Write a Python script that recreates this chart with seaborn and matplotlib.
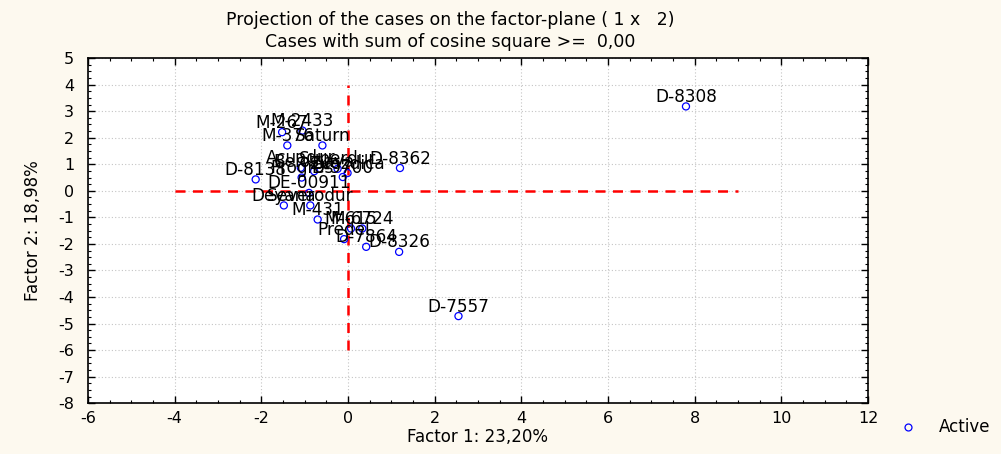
import matplotlib
matplotlib.use("Agg")
import matplotlib.pyplot as plt
from matplotlib.ticker import MultipleLocator
import seaborn as sns
import pandas as pd

# ---- data ----
case_names = ["D-8308", "D-7557", "D-8362", "D-8326", "D-7864", "Predel",
              "M-615", "M-6724", "M-431", "Deyana", "Severodur", "DE-00911",
              "D-8138", "Progres", "Beloslava", "Acuadur", "Superdur", "D-9700",
              "Zvezdica", "M-267", "M-2433", "M-376", "Saturn"]
factor1 = [7.80, 2.55, 1.20, 1.18, 0.42, -0.09,
           0.07, 0.33, -0.70, -1.48, -0.87, -0.90,
           -2.13, -1.07, -0.78, -1.09, -0.24, -0.12,
           -0.01, -1.52, -1.05, -1.40, -0.59]
factor2 = [3.18, -4.72, 0.86, -2.30, -2.11, -1.82,
           -1.42, -1.42, -1.08, -0.55, -0.55, -0.08,
           0.43, 0.50, 0.74, 0.87, 0.83, 0.52,
           0.67, 2.21, 2.27, 1.71, 1.71]
series_label = "Active"
title_lines = ["Projection of the cases on the factor-plane ( 1 x   2)",
               "Cases with sum of cosine square >=  0,00"]
x_label = "Factor 1: 23,20%"
y_label = "Factor 2: 18,98%"

df = pd.DataFrame({"case": case_names, "f1": factor1, "f2": factor2,
                   "group": series_label})

sns.set_style("white")
plt.rcParams["font.family"] = ["DejaVu Sans"]
plt.rcParams["axes.unicode_minus"] = False
plt.rcParams["text.color"] = "black"
plt.rcParams["axes.labelcolor"] = "black"
plt.rcParams["xtick.color"] = "black"
plt.rcParams["ytick.color"] = "black"

bg = "#FDF9EF"
fig = plt.figure(figsize=(10.01, 4.54), dpi=100, facecolor=bg)
ax = fig.add_axes([0.0879, 0.112, 0.7792, 0.760])
ax.set_facecolor("white")

# reference lines through origin
ax.plot([-4, 9], [0, 0], color="#FF0000", lw=1.8, ls=(0, (4, 3)), zorder=2)
ax.plot([0, 0], [-6, 4], color="#FF0000", lw=1.8, ls=(0, (4, 3)), zorder=2)

sns.scatterplot(data=df, x="f1", y="f2", hue="group", palette=["#0000FF"],
                marker="o", s=26, linewidth=0.9, ax=ax, zorder=3, legend=False)
for coll in ax.collections:
    coll.set_facecolor("none")
    coll.set_edgecolor("#0000FF")

for name, x, y in zip(case_names, factor1, factor2):
    ax.annotate(name, (x, y), xytext=(0, 3.2), textcoords="offset points",
                ha="center", va="baseline", fontsize=12.2, color="black",
                zorder=4)

ax.set_xlim(-6, 12)
ax.set_ylim(-8, 5)
ax.xaxis.set_major_locator(MultipleLocator(2))
ax.xaxis.set_minor_locator(MultipleLocator(0.5))
ax.yaxis.set_major_locator(MultipleLocator(1))
ax.yaxis.set_minor_locator(MultipleLocator(0.25))
ax.tick_params(which="both", direction="in", top=True, right=True,
               bottom=True, left=True, color="black")
ax.tick_params(which="major", length=5, width=1, labelsize=11.5)
ax.tick_params(axis="x", which="major", pad=6)
ax.tick_params(axis="y", which="major", pad=10)
ax.tick_params(which="minor", length=2.5, width=0.8)
ax.grid(True, which="major", color="#C4C4C4", ls=(0, (1, 2)), lw=0.8)
for sp in ax.spines.values():
    sp.set_color("black")
    sp.set_linewidth(1.2)

ax.set_xlabel(x_label, fontsize=12)
ax.xaxis.set_label_coords(0.5, -(437 - 403) / 345.0)
ax.xaxis.label.set_va("center")
ax.set_ylabel(y_label, fontsize=12)
ax.yaxis.set_label_coords(-(88 - 33) / 780.0, 0.5)
ax.yaxis.label.set_va("center")

fig.text(0.45, 1 - 20 / 454, title_lines[0], ha="center", va="center",
         fontsize=12.5)
fig.text(0.45, 1 - 42 / 454, title_lines[1], ha="center", va="center",
         fontsize=12.5)

# legend
fig.lines.append(plt.Line2D([0.907], [1 - 427 / 454], marker="o", ls="none",
                            markersize=5, markerfacecolor="none",
                            markeredgecolor="#0000FF", markeredgewidth=0.9,
                            transform=fig.transFigure, figure=fig))
fig.text(0.938, 1 - 427 / 454, series_label, ha="left", va="center",
         fontsize=12)

fig.savefig("out.png", dpi=100, facecolor=bg)
